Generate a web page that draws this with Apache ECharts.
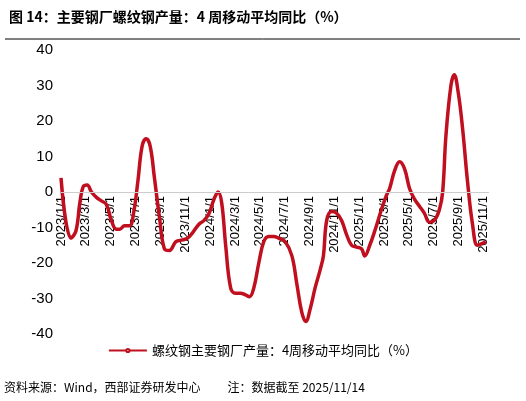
<!DOCTYPE html><html><head><meta charset="utf-8"><script src="https://cdn.jsdelivr.net/npm/echarts@6/dist/echarts.min.js"></script>
<style>body{margin:0}#c{width:526px;height:401px}</style></head><body><div id="c"></div><script>
const px=[183,213,228,240,250,262,275,290,305,320,335,350,360,375,390,402,415,428,440,452,465,480,495,510,530,550,565,580,600,615,630,645,657,668,680,695,710,725,740,752,765,780,795,810,825,840,860,880,895,910,922,935,950,965,975,985,1000,1015,1030,1045,1060,1075,1090,1100,1115,1130,1150,1165,1175,1190,1205,1220,1235,1250,1265,1280,1295,1310,1325,1335,1345,1360,1370,1382,1395,1410,1425,1440,1455,1465];
const values=[4,-13,-11,-3,1.5,2,0,-1.5,-2.5,-3.5,-8,-10.5,-10.5,-9.5,-9.5,-6,3,13,15,13,4,-7,-16,-16.5,-14,-13.5,-13,-11.5,-9,-8,-6,-2,0,-3,-15,-27,-28.5,-28.5,-29,-29.5,-27,-20,-14,-12.5,-12.5,-13,-14,-18,-26,-34,-36.5,-33,-27,-22,-18,-8,-5.5,-6,-8,-12,-15,-15.5,-16,-18,-15,-11,-5,-1,1,6,8.5,6.5,1,-2,-4,-6,-8.5,-8,-5,0,16,30,33,28,18,3,-9,-15,-14.5,-14];
const months=px.map(p=>(p-183)/37.5); // month offsets from 2023/1/1
const fmt=m=>{const y=2023+Math.floor(m/12),mo=m%12+1;return y+'/'+mo+'/1';};
const c=echarts.init(document.getElementById('c'));
c.setOption({animation:false,
title:{text:'图 14：主要钢厂螺纹钢产量：4 周移动平均同比（%）',left:4,top:5,textStyle:{fontSize:14,fontWeight:'bold',color:'#000',fontFamily:'Noto Sans CJK SC'}},
graphic:[{type:'line',shape:{x1:5,y1:39,x2:520,y2:39},style:{stroke:'#000',lineWidth:1}},
{type:'text',left:4,top:381,style:{text:'资料来源：Wind，西部证券研发中心          注：数据截至 2025/11/14',fontSize:12,fill:'#000',fontFamily:'Noto Sans CJK SC'}}],
legend:{top:339,left:'center',itemWidth:38,itemHeight:4,textStyle:{fontSize:13,color:'#000',fontFamily:'Noto Sans CJK SC'},data:['螺纹钢主要钢厂产量：4周移动平均同比（%）']},
grid:{left:61,right:37,top:50,bottom:67},
xAxis:{type:'value',min:0,max:34.45,interval:2,splitLine:{show:false},axisLine:{show:false},axisTick:{show:false},
axisLabel:{rotate:90,margin:-138,fontSize:13,color:'#000',fontFamily:'Arial',showMaxLabel:false,formatter:v=>Number.isInteger(v)?fmt(v):''}},
yAxis:{type:'value',min:-40,max:40,interval:10,splitLine:{show:false},axisLine:{show:false},axisTick:{show:false},axisLabel:{fontSize:15,color:'#000',fontFamily:'Arial'}},
series:[{name:'螺纹钢主要钢厂产量：4周移动平均同比（%）',type:'line',smooth:0.4,showSymbol:false,z:3,lineStyle:{width:3.5,color:'#c00f1e'},itemStyle:{color:'#c00f1e'},
markLine:{silent:true,symbol:'none',label:{show:false},lineStyle:{color:'#ccc',type:'solid',width:1},data:[{yAxis:0}]},
data:months.map((m,i)=>[m,values[i]])}]
});
</script></body></html>
